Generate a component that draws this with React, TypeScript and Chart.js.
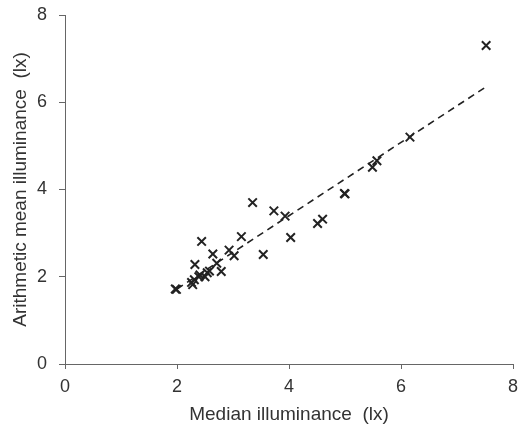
import React, { useEffect, useRef } from "react";
import { Chart, registerables } from "chart.js";

Chart.register(...registerables);

const medianX = [1.99, 1.97, 2.26, 2.28, 2.31, 2.32, 2.44, 2.41, 2.39, 2.5, 2.54, 2.58, 2.64, 2.71, 2.79, 2.93, 3.02, 3.15, 3.35, 3.54, 3.73, 3.93, 4.03, 4.51, 4.6, 4.99, 5.0, 5.49, 5.57, 6.16, 7.52];
const meanY = [1.71, 1.72, 1.87, 1.82, 1.93, 2.28, 2.81, 2.04, 2.0, 2.0, 2.09, 2.13, 2.52, 2.31, 2.12, 2.61, 2.48, 2.92, 3.7, 2.51, 3.51, 3.39, 2.9, 3.22, 3.32, 3.91, 3.9, 4.51, 4.66, 5.2, 7.3];

const trendX = [2.0, 7.55];
const trendY = [1.72, 6.38];

const axisTicks = [0, 2, 4, 6, 8];

const FONT = "'Liberation Sans', Arial, Helvetica, sans-serif";

export default function App() {
  const ref = useRef<HTMLCanvasElement | null>(null);

  useEffect(() => {
    if (!ref.current) return;
    const points = medianX.map((x, i) => ({ x, y: meanY[i] }));
    const trend = trendX.map((x, i) => ({ x, y: trendY[i] }));
    const chart = new Chart(ref.current, {
      type: "scatter",
      data: {
        datasets: [
          {
            label: "Observations",
            data: points,
            pointStyle: "crossRot",
            pointRadius: 6,
            pointBorderWidth: 2,
            borderColor: "#222",
            backgroundColor: "#222",
            showLine: false,
          },
          {
            label: "Trend",
            data: trend,
            showLine: true,
            pointRadius: 0,
            borderColor: "#222",
            borderWidth: 1.6,
            borderDash: [7, 5],
          } as any,
        ],
      },
      options: {
        responsive: false,
        animation: false,
        events: [],
        layout: { autoPadding: false, padding: { left: 0, top: 15, right: 5, bottom: 0 } },
        plugins: { legend: { display: false }, tooltip: { enabled: false } },
        scales: {
          x: {
            type: "linear",
            min: 0,
            max: 8,
            afterBuildTicks: (s: any) => {
              s.ticks = axisTicks.map((v) => ({ value: v }));
            },
            afterFit: (s: any) => {
              s.height = 60;
              s.paddingLeft = 0;
              s.paddingRight = 0;
            },
            grid: { drawOnChartArea: false, drawTicks: true, tickLength: 5, color: "#666", tickColor: "#666" },
            border: { display: true, color: "#666", width: 1 },
            ticks: { color: "#333", font: { family: FONT, size: 18 }, padding: 7 },
            title: {
              display: true,
              text: "Median illuminance  (lx)",
              color: "#333",
              font: { family: FONT, size: 19, lineHeight: 1.0 },
              padding: { top: 0, bottom: 0 },
            },
          },
          y: {
            type: "linear",
            min: 0,
            max: 8,
            afterBuildTicks: (s: any) => {
              s.ticks = axisTicks.map((v) => ({ value: v }));
            },
            afterFit: (s: any) => {
              s.width = 65;
              s.paddingTop = 0;
              s.paddingBottom = 0;
            },
            grid: { drawOnChartArea: false, drawTicks: true, tickLength: 6, color: "#666", tickColor: "#666" },
            border: { display: true, color: "#666", width: 1 },
            ticks: { color: "#333", font: { family: FONT, size: 18 }, padding: 12 },
            title: {
              display: true,
              text: "Arithmetic mean illuminance  (lx)",
              color: "#333",
              font: { family: FONT, size: 19, lineHeight: 1.0 },
              padding: { top: 11, bottom: 0 },
            },
          },
        },
      },
    });
    return () => chart.destroy();
  }, []);

  return (
    <div style={{ position: "fixed", left: 0, top: 0, width: 518, height: 424, background: "#fff" }}>
      <canvas ref={ref} width={518} height={424} style={{ width: 518, height: 424, display: "block" }} />
    </div>
  );
}
